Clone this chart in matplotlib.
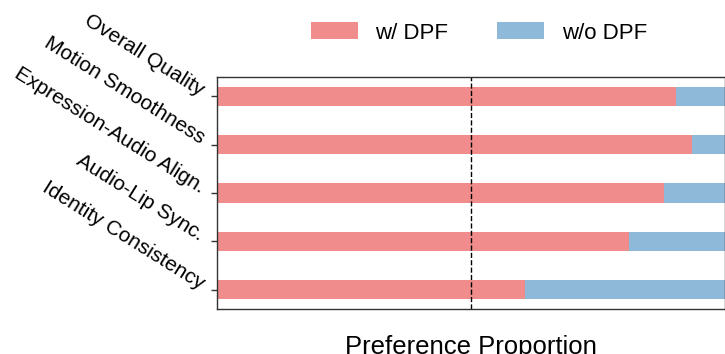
import matplotlib
matplotlib.use("Agg")
import matplotlib.pyplot as plt
import numpy as np

plt.rcParams['font.family'] = ['Liberation Sans', 'DejaVu Sans']

categories = ["Overall Quality", "Motion Smoothness", "Expression-Audio Align.",
              "Audio-Lip Sync.", "Identity Consistency"]
with_dpf = [0.903, 0.935, 0.879, 0.811, 0.606]
without_dpf = [1 - v for v in with_dpf]
series_labels = ["w/ DPF", "w/o DPF"]
colors = ["#F08C8C", "#8FB9D9"]

fig = plt.figure(figsize=(7.25, 3.54), dpi=100)
ax = fig.add_axes([0.2993, 0.1271, 0.7007, 0.6554])

y = np.arange(len(categories))
ax.barh(y, with_dpf, height=0.4, color=colors[0], label=series_labels[0])
ax.barh(y, without_dpf, left=with_dpf, height=0.4, color=colors[1], label=series_labels[1])
ax.axvline(0.5, color='black', linestyle='--', linewidth=1)

ax.set_xlim(0, 1)
ax.set_ylim(len(categories) - 0.6, -0.4)
ax.set_yticks(y)
ax.set_yticklabels(categories, rotation=-32, ha='right', va='baseline',
                   rotation_mode='anchor', fontsize=15)
ax.set_xticks([])
ax.tick_params(axis='y', length=4, width=1, color='#333333', pad=8.5)
for s in ax.spines.values():
    s.set_color('#333333')
    s.set_linewidth(1)
ax.set_xlabel("Preference Proportion", fontsize=18.5, labelpad=19)

ax.legend(loc='center', bbox_to_anchor=(0.5 + 8/508, 1 + 44/232), ncol=2, frameon=False,
          fontsize=16, handlelength=2.1, handleheight=0.77, handletextpad=0.8,
          columnspacing=2.2)

fig.savefig("out.png", dpi=100)
